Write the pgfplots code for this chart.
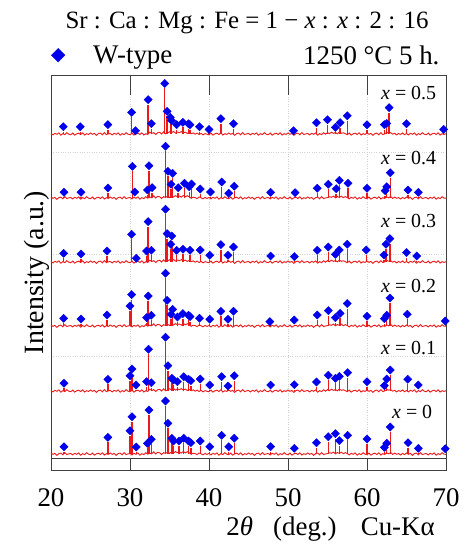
\documentclass[border=0pt]{standalone}
\usepackage{fontspec}
\setmainfont{Liberation Serif}
\usepackage{pgfplots}
\usepackage{pgfplotstable}
\pgfplotsset{compat=1.18}
\definecolor{specred}{RGB}{235,25,25}
\definecolor{wblue}{RGB}{0,0,235}

\pgfplotstableread{
x n1 n2
20 0.5 1.0
20.25 -0.9 -0.3
20.5 0.7 0.6
20.75 -0.3 -1.3
21 1.1 0.4
21.25 -1.2 0.9
21.5 0.4 -0.8
21.75 -0.6 1.4
22 1.3 -0.6
22.25 -0.2 0.1
22.5 -0.7 0.5
22.75 0.9 -0.9
23 -1.1 0.7
23.25 0.2 -0.3
23.5 0.8 1.1
23.75 -0.5 -1.2
24 1.2 0.4
24.25 -1.0 -0.6
24.5 0.3 1.3
24.75 -0.4 -0.2
25 1.0 -0.7
25.25 -0.3 0.9
25.5 0.6 -1.1
25.75 -1.3 0.2
26 0.4 0.8
26.25 0.9 -0.5
26.5 -0.8 1.2
26.75 1.4 -1.0
27 -0.6 0.3
27.25 0.1 -0.4
27.5 0.5 1.0
27.75 -0.9 -0.3
28 0.7 0.6
28.25 -0.3 -1.3
28.5 1.1 0.4
28.75 -1.2 0.9
29 0.4 -0.8
29.25 -0.6 1.4
29.5 1.3 -0.6
29.75 -0.2 0.1
30 -0.7 0.5
30.25 0.9 -0.9
30.5 -1.1 0.7
30.75 0.2 -0.3
31 0.8 1.1
31.25 -0.5 -1.2
31.5 1.2 0.4
31.75 -1.0 -0.6
32 0.3 1.3
32.25 -0.4 -0.2
32.5 1.8 0.9
32.75 0.5 0.2
33 1.4 2.2
33.25 -0.5 0.0
33.5 1.2 1.7
33.75 1.7 1.2
34 0.0 -0.5
34.25 2.2 1.4
34.5 0.2 0.5
34.75 0.9 1.8
35 2.3 0.6
35.25 1.2 1.9
35.5 2.6 1.0
35.75 0.9 2.4
36 2.0 1.4
36.25 1.4 2.0
36.5 2.4 0.9
36.75 1.0 2.6
37 1.9 1.2
37.25 0.6 2.3
37.5 1.5 1.2
37.75 0.3 -0.3
38 1.1 0.8
38.25 -0.2 0.4
38.5 0.9 -0.6
38.75 -0.5 1.0
39 0.6 0.2
39.25 -0.9 -0.8
39.5 0.4 0.5
39.75 -0.3 -0.4
40 -0.7 0.5
40.25 0.9 -0.9
40.5 -1.1 0.7
40.75 0.2 -0.3
41 0.8 1.1
41.25 -0.5 -1.2
41.5 1.2 0.4
41.75 -1.0 -0.6
42 0.3 1.3
42.25 -0.4 -0.2
42.5 1.0 -0.7
42.75 -0.3 0.9
43 0.6 -1.1
43.25 -1.3 0.2
43.5 0.4 0.8
43.75 0.9 -0.5
44 -0.8 1.2
44.25 1.4 -1.0
44.5 -0.6 0.3
44.75 0.1 -0.4
45 0.5 1.0
45.25 -0.9 -0.3
45.5 0.7 0.6
45.75 -0.3 -1.3
46 1.1 0.4
46.25 -1.2 0.9
46.5 0.4 -0.8
46.75 -0.6 1.4
47 1.3 -0.6
47.25 -0.2 0.1
47.5 -0.7 0.5
47.75 0.9 -0.9
48 -1.1 0.7
48.25 0.2 -0.3
48.5 0.8 1.1
48.75 -0.5 -1.2
49 1.2 0.4
49.25 -1.0 -0.6
49.5 0.3 1.3
49.75 -0.4 -0.2
50 1.0 -0.7
50.25 -0.3 0.9
50.5 0.6 -1.1
50.75 -1.3 0.2
51 0.4 0.8
51.25 0.9 -0.5
51.5 -0.8 1.2
51.75 1.4 -1.0
52 -0.6 0.3
52.25 0.1 -0.4
52.5 0.5 1.0
52.75 -0.9 -0.3
53 0.7 0.6
53.25 -0.3 -1.3
53.5 1.1 0.4
53.75 -1.2 0.9
54 0.4 -0.8
54.25 -0.6 1.4
54.5 1.3 -0.6
54.75 -0.2 0.1
55 1.4 0.4
55.25 0.3 1.2
55.5 1.8 0.7
55.75 0.6 1.9
56 1.5 0.2
56.25 0.2 1.5
56.5 1.9 0.6
56.75 0.7 1.8
57 1.2 0.3
57.25 0.4 1.4
57.5 -0.7 0.5
57.75 0.9 -0.9
58 -1.1 0.7
58.25 0.2 -0.3
58.5 0.8 1.1
58.75 -0.5 -1.2
59 1.2 0.4
59.25 -1.0 -0.6
59.5 0.3 1.3
59.75 -0.4 -0.2
60 1.0 -0.7
60.25 -0.3 0.9
60.5 0.6 -1.1
60.75 -1.3 0.2
61 0.4 0.8
61.25 0.9 -0.5
61.5 -0.8 1.2
61.75 1.4 -1.0
62 -0.6 0.3
62.25 0.1 -0.4
62.5 1.6 1.1
62.75 0.8 0.2
63 1.3 1.5
63.25 -0.2 -0.5
63.5 0.7 0.9
63.75 -0.9 -0.3
64 0.5 0.4
64.25 -0.4 -1.0
64.5 1.0 0.6
64.75 -0.7 -0.6
65 0.5 1.0
65.25 -0.9 -0.3
65.5 0.7 0.6
65.75 -0.3 -1.3
66 1.1 0.4
66.25 -1.2 0.9
66.5 0.4 -0.8
66.75 -0.6 1.4
67 1.3 -0.6
67.25 -0.2 0.1
67.5 -0.7 0.5
67.75 0.9 -0.9
68 -1.1 0.7
68.25 0.2 -0.3
68.5 0.8 1.1
68.75 -0.5 -1.2
69 1.2 0.4
69.25 -1.0 -0.6
69.5 0.3 1.3
69.75 -0.4 -0.2
70 0.3 -0.2
}\noise

% x = 0.5
\pgfplotstableread{
x d t
21.56 7.3 2.3
23.7 7.3 2.3
27.2 9.3 4.3
30.2 21.6 16.6
30.7 3.3 0.5
32.3 34.3 29.3
32.7 10.3 5.3
34.4 50.6 45.6
34.7 22.6 17.6
35.1 16.6 11.6
35.25 13.5 8.5
35.9 9.3 4.3
36.7 11.6 6.6
37.4 10.3 5.3
37.6 9.3 4.3
38.8 7.3 2.3
40.0 4.6 0.5
41.5 15.3 10.3
43.1 10.3 5.3
50.7 3.3 0.5
53.6 11.3 6.3
55.0 14.3 9.3
56.0 6.6 1.6
56.6 11.3 6.3
57.5 18.3 13.3
60.0 9.3 4.3
62.2 9.3 4.3
62.5 10.6 5.6
62.8 26.3 21.3
65.0 10.3 5.3
69.7 4.6 0.5
}\tA

% x = 0.4
\pgfplotstableread{
x d t
21.65 5.7 0.7
23.8 5.7 0.7
27.2 10 5
30.3 31.7 26.7
30.6 6 1
32.2 8 3
32.4 32.3 27.3
32.8 10.3 5.3
34.5 51.7 46.7
34.8 26.7 21.7
35.2 13.7 8.7
35.4 24.7 19.7
36.1 10.3 5.3
36.9 14.7 9.7
37.5 11.3 6.3
37.8 14 9
38.9 9 4
40.2 6 1
41.6 16 11
42.5 4.7 0.5
43.2 11.7 6.7
47.8 5.7 0.7
50.9 5.3 0.5
53.7 9.7 4.7
55.1 13.7 8.7
56.1 9.3 4.3
56.5 17.7 12.7
57.6 14.7 9.7
60.0 9.7 4.7
62.3 7.3 2.3
62.5 11.3 6.3
62.95 25.3 20.3
65.2 8 3
66.5 5.7 0.7
}\tB

% x = 0.3
\pgfplotstableread{
x d t
21.6 8.7 3.7
23.8 8 3
27.1 11 6
30.2 27.7 22.7
30.8 3.7 0.5
32.1 11 6
32.3 40.4 35.4
32.7 11.7 6.7
34.5 52.7 47.7
34.7 28.4 23.4
35.15 17.7 12.7
35.3 26 21
35.9 11.7 6.7
36.7 12.7 7.7
37.6 11.7 6.7
38.9 12 7
40.1 6.7 1.7
41.5 17.4 12.4
42.4 6.7 1.7
43.1 15 10
47.8 6 1
50.8 5.4 0.5
53.7 11.7 6.7
55.1 15 10
56.0 7.7 2.7
56.5 12 7
57.5 17.7 12.7
59.9 12 7
62.15 7 2
62.4 17.7 12.7
62.9 23.4 18.4
65.0 9.4 4.4
66.3 6 1
}\tC

% x = 0.2
\pgfplotstableread{
x d t
21.6 7.7 2.7
23.8 7 2
27.1 11 6
30.0 20 15
30.2 31.4 26.4
32.1 8.4 3.4
32.3 30 25
32.7 10.7 5.7
34.5 52.7 47.7
34.7 25.7 20.7
35.2 11.7 6.7
35.4 16.7 11.7
36.0 9 4
36.7 12.4 7.4
37.4 10.7 5.7
37.6 9.4 4.4
38.8 7.7 2.7
40.1 6.7 1.7
41.5 14.7 9.7
42.4 6.7 1.7
43.1 14.7 9.7
47.7 4.4 0.5
50.8 6 1
53.7 11 6
55.1 15.4 10.4
56.0 8.4 3.4
56.6 12.7 7.7
57.5 22.4 17.4
60.0 9.7 4.7
62.2 7.4 2.4
62.5 10.7 5.7
62.9 28 23
65.1 11.7 6.7
69.9 5 0.5
}\tD

% x = 0.1
\pgfplotstableread{
x d t
21.65 7.7 2.7
27.2 11.7 6.7
30.0 15.3 10.3
30.25 22 17
30.75 6 1
32.1 9.3 4.3
32.35 41.7 36.7
32.7 8.3 3.3
34.5 53.7 48.7
34.8 25.3 20.3
35.3 12.7 7.7
35.5 11 6
36.0 9.3 4.3
36.8 14.3 9.3
37.4 11.7 6.7
37.7 10.3 5.3
38.9 12 7
40.1 6 1
41.6 14.3 9.3
42.4 5 0.5
43.2 15.3 10.3
47.8 6 1
50.8 6.3 1.3
53.6 9 4
55.1 15.7 10.7
56.0 12.7 7.7
56.5 14.7 9.7
57.55 18.3 13.3
60.0 9.3 4.3
62.2 5.3 0.5
62.5 12 7
62.95 21 16
65.15 11.7 6.7
66.5 6 1
}\tE

% x = 0
\pgfplotstableread{
x d t
21.65 7.3 2.3
27.2 16.7 11.7
30.0 23.3 18.3
30.25 37.3 32.3
30.8 7 2
32.2 10.7 5.7
32.4 44 39
32.7 14.7 9.7
34.5 53 48
34.8 30.7 25.7
35.3 15.7 10.7
35.5 13 8
36.2 13 8
36.8 15.7 10.7
37.4 13 8
37.7 11.3 6.3
38.9 13 8
40.1 7.3 2.3
41.6 18.7 13.7
42.5 7.3 2.3
43.2 15.7 10.7
47.8 7.3 2.3
50.8 5.7 0.7
53.6 11.3 6.3
55.1 17.3 12.3
56.0 20.3 15.3
56.5 13.3 8.3
57.55 18.7 13.7
60.0 15 10
62.2 6.7 1.7
62.5 10.7 5.7
62.95 27 22
65.2 11.3 6.3
66.5 5.7 0.7
69.9 5.3 0.5
}\tF

\pgfplotsset{
  spikes/.style={specred, line width=1.4pt, no marks, forget plot,
    quiver={u=0, v=\thisrow{t}}},
  basel/.style={specred, line width=0.9pt, no marks, forget plot},
  wmarks/.style={only marks, mark=square*, mark size=2.9pt,
    mark options={rotate=45, fill=wblue, draw=wblue, solid}, forget plot},
}

\begin{document}
\begin{tikzpicture}
\begin{axis}[
  at={(0,0)}, anchor=south west,
  scale only axis, width=395bp, height=395bp,
  xmin=20, xmax=70, ymin=0, ymax=395,
  clip=false,
  xtick={20,30,40,50,60,70},
  xtick pos=right, xticklabel pos=left,
  major tick length=20bp, tick align=inside,
  ytick={114,216,318}, yticklabels={},
  ytick style={draw=none},
  xtick style={black!75, line width=0.8pt},
  xmajorgrids, ymajorgrids,
  grid style={gray!35, dotted, line width=0.6pt},
  axis line style={black!75, line width=0.8pt},
  /pgf/number format/assume math mode=true,
  xticklabel style={font=\fontsize{27}{30}\selectfont, inner sep=0pt, yshift=-18bp},
  xlabel={2\textit{θ}\hspace{0.75em}(deg.)\hspace{0.9em}Cu-Kα},
  xlabel style={at={(axis description cs:0.972,-0.1646)}, anchor=base east,
    font=\fontsize{27}{30}\selectfont, inner sep=0pt},
  ylabel={Intensity (a.u.)},
  ylabel style={at={(axis description cs:-0.02,0.5)}, anchor=base,
    font=\fontsize{28}{30}\selectfont, inner sep=0pt},
  legend style={at={(axis description cs:0,1.05)}, anchor=west,
    draw=none, fill=none, inner sep=0pt, nodes={inner sep=0pt},
    font=\fontsize{27}{30}\selectfont},
  legend cell align=left,
  legend image code/.code={%
    \path[draw=none, fill=none] (-7bp,-7bp) rectangle (35bp,7bp);
    \draw[#1] plot coordinates {(0bp,0bp)};},
]
\addlegendimage{only marks, mark=square*, mark size=4.8pt,
  mark options={rotate=45, fill=wblue, draw=wblue}}
\addlegendentry{W-type}

% frame details at the bottom
\addplot[black!75, line width=0.8pt, forget plot] coordinates {(20,12) (70,12)};
\addplot[ycomb, black!75, line width=0.8pt, no marks, forget plot]
  coordinates {(30,12) (40,12) (50,12) (60,12)};

% baselines
\addplot[basel] table[x=x, y expr=\thisrow{n1}+336] {\noise};
\addplot[basel] table[x=x, y expr=\thisrow{n2}+272] {\noise};
\addplot[basel] table[x=x, y expr=\thisrow{n1}+208] {\noise};
\addplot[basel] table[x=x, y expr=\thisrow{n2}+144] {\noise};
\addplot[basel] table[x=x, y expr=\thisrow{n1}+79] {\noise};
\addplot[basel] table[x=x, y expr=\thisrow{n2}+16] {\noise};

% peaks
\addplot[spikes] table[x=x, y expr=336] {\tA};
\addplot[spikes] table[x=x, y expr=272] {\tB};
\addplot[spikes] table[x=x, y expr=208] {\tC};
\addplot[spikes] table[x=x, y expr=144] {\tD};
\addplot[spikes] table[x=x, y expr=79] {\tE};
\addplot[spikes] table[x=x, y expr=16] {\tF};

% W-type markers
\addplot[wmarks] table[x=x, y expr=\thisrow{d}+336] {\tA};
\addplot[wmarks] table[x=x, y expr=\thisrow{d}+272] {\tB};
\addplot[wmarks] table[x=x, y expr=\thisrow{d}+208] {\tC};
\addplot[wmarks] table[x=x, y expr=\thisrow{d}+144] {\tD};
\addplot[wmarks] table[x=x, y expr=\thisrow{d}+79] {\tE};
\addplot[wmarks] table[x=x, y expr=\thisrow{d}+16] {\tF};

\begin{scope}[font=\fontsize{20}{24}\selectfont]
\node[anchor=base east] at (axis cs:69.2,370) {\textit{x} = 0.5};
\node[anchor=base east] at (axis cs:69.2,305) {\textit{x} = 0.4};
\node[anchor=base east] at (axis cs:69.2,242) {\textit{x} = 0.3};
\node[anchor=base east] at (axis cs:69.2,177) {\textit{x} = 0.2};
\node[anchor=base east] at (axis cs:69.2,115) {\textit{x} = 0.1};
\node[anchor=base east] at (axis cs:68.7,52) {\textit{x} = 0};
\end{scope}
\end{axis}
\node[anchor=base, font=\fontsize{25}{30}\selectfont] at (196bp,441bp)
  {Sr : Ca : Mg : Fe = 1 − \textit{x} : \textit{x} : 2 : 16};
\node[anchor=base east, font=\fontsize{27}{30}\selectfont] at (392bp,405bp)
  {1250 °C 5 h.};
\pgfresetboundingbox
\path[use as bounding box] (-51bp,-74bp) rectangle (417bp,470bp);
\end{tikzpicture}
\end{document}
